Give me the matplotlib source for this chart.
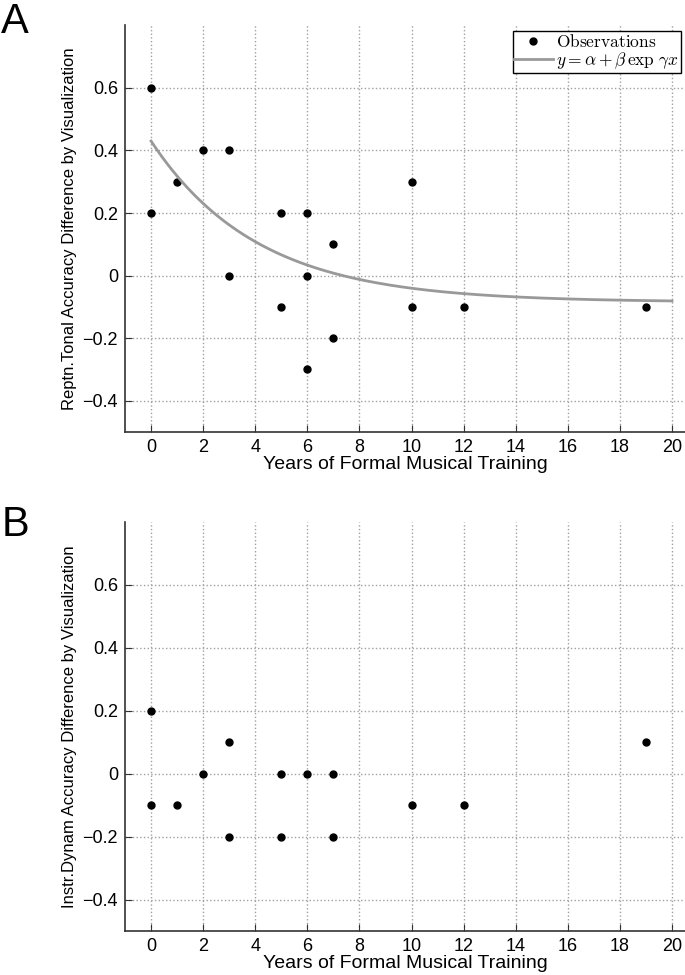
import matplotlib.pyplot as plt
import numpy as np

plt.rcParams['font.family'] = ['Liberation Sans', 'DejaVu Sans']
plt.rcParams['mathtext.fontset'] = 'cm'

# panel A: repeated tonal accuracy difference
years_a = [0, 0, 1, 2, 3, 3, 5, 5, 6, 6, 6, 7, 7, 10, 10, 12, 19]
diff_a = [0.6, 0.2, 0.3, 0.4, 0.4, 0.0, 0.2, -0.1, 0.2, 0.0, -0.3, 0.1, -0.2, 0.3, -0.1, -0.1, -0.1]

# panel B: instrument dynamics accuracy difference
years_b = [0, 0, 1, 2, 3, 3, 5, 5, 6, 7, 7, 10, 12, 19]
diff_b = [0.2, -0.1, -0.1, 0.0, 0.1, -0.2, 0.0, -0.2, 0.0, 0.0, -0.2, -0.1, -0.1, 0.1]

# fitted exponential y = alpha + beta*exp(gamma*x)
alpha, beta, gamma = -0.085, 0.515, -0.245

xticks = list(range(0, 21, 2))
yticks = [-0.4, -0.2, 0, 0.2, 0.4, 0.6]
ytick_labels = ['\u22120.4', '\u22120.2', '0', '0.2', '0.4', '0.6']

fig = plt.figure(figsize=(6.85, 9.75), dpi=100)
ax1 = fig.add_axes([0.1825, 0.557, 0.8175, 0.417])
ax2 = fig.add_axes([0.1825, 0.045, 0.8175, 0.42])


def style(ax, ylabel):
    ax.set_xlim(-1, 20.5)
    ax.set_ylim(-0.5, 0.8)
    ax.set_xticks(xticks)
    ax.set_yticks(yticks)
    ax.set_yticklabels(ytick_labels)
    ax.grid(True, linestyle=':', color='#a0a0a0', linewidth=1)
    ax.set_axisbelow(True)
    for s in ['top', 'right']:
        ax.spines[s].set_visible(False)
    for s in ['left', 'bottom']:
        ax.spines[s].set_color('#333333')
        ax.spines[s].set_linewidth(1.2)
    ax.tick_params(direction='in', length=5, labelsize=13, color='#333333', pad=5)
    ax.set_xlabel('Years of Formal Musical Training', fontsize=14, labelpad=0)
    ax.set_ylabel(ylabel, fontsize=12, labelpad=4)


ax1.plot(years_a, diff_a, 'o', color='black', markersize=5, label=r'$\mathrm{Observations}$')
xf = np.linspace(0, 20, 200)
ax1.plot(xf, alpha + beta * np.exp(gamma * xf), color='#999999', linewidth=2,
         label=r'$y = \alpha + \beta\,\exp\,\gamma x$')
style(ax1, 'Reptn.Tonal Accuracy Difference by Visualization')
leg = ax1.legend(loc='upper right', bbox_to_anchor=(0.992, 0.985), fontsize=12.5,
                 fancybox=False, framealpha=1, edgecolor='black', borderpad=0.1,
                 labelspacing=0.0, handlelength=2.2, handletextpad=0.2,
                 borderaxespad=0)
leg.get_frame().set_linewidth(1)

ax2.plot(years_b, diff_b, 'o', color='black', markersize=5)
style(ax2, 'Instr.Dynam Accuracy Difference by Visualization')

fig.text(0.002, 0.998, 'A', fontsize=30, va='top', ha='left')
fig.text(0.002, 0.482, 'B', fontsize=30, va='top', ha='left')

fig.savefig('out.png', dpi=100)
